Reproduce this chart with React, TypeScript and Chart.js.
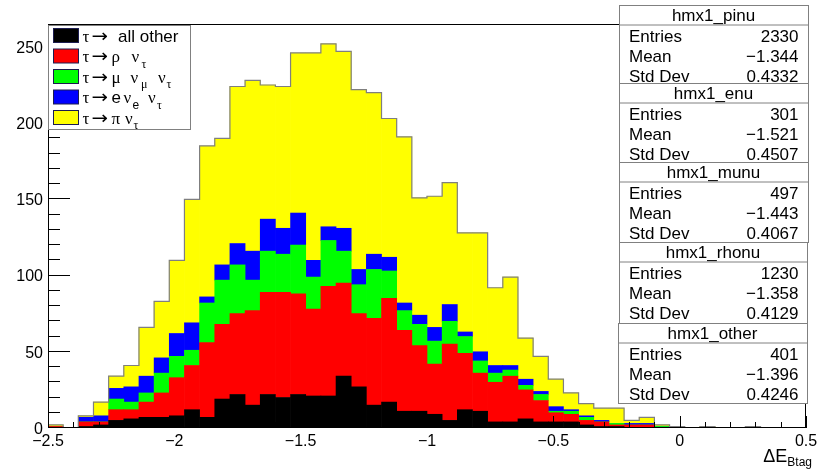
import React, { useEffect, useRef } from 'react';
import { Chart, registerables } from 'chart.js';

Chart.register(...registerables);

// ---- histogram definition (50 bins from -2.5 to 0.5) ----
const X_MIN = -2.5;
const X_MAX = 0.5;
const BIN_WIDTH = 0.06;
const Y_MAX = 265;

// ---- stacked series (counts per bin), bottom to top ----
const otherCounts = [0, 0, 1, 2, 5, 6, 7, 7, 8, 12, 7, 19, 22, 15, 22, 20, 22, 21, 21, 34, 27, 15, 17, 11, 11, 9, 5, 12, 11, 4, 4, 6, 4, 4, 4, 2, 1, 1, 0, 0, 0, 0, 0, 0, 0, 0, 0, 0, 0, 0];
const rhonuCounts = [1, 0, 3, 2, 7, 6, 10, 16, 25, 29, 49, 49, 53, 62, 67, 69, 66, 57, 72, 61, 48, 57, 68, 53, 43, 33, 50, 37, 25, 26, 30, 19, 14, 6, 5, 3, 3, 1, 2, 2, 0, 0, 0, 0, 0, 0, 0, 0, 0, 0];
const munuCounts = [0, 0, 0, 0, 7, 5, 6, 13, 14, 10, 26, 29, 32, 20, 27, 25, 32, 21, 30, 21, 19, 32, 18, 13, 14, 15, 15, 11, 8, 6, 4, 3, 4, 1, 2, 2, 0, 1, 0, 0, 1, 0, 0, 0, 0, 0, 0, 0, 0, 0];
const enuCounts = [0, 0, 3, 4, 7, 10, 11, 10, 15, 18, 4, 10, 14, 19, 21, 17, 21, 11, 9, 15, 10, 10, 9, 5, 6, 9, 11, 3, 6, 5, 3, 4, 2, 3, 1, 1, 1, 0, 1, 1, 0, 0, 0, 0, 0, 0, 0, 0, 0, 0];
const pinuCounts = [1, 0, 1, 9, 8, 14, 32, 37, 48, 81, 99, 83, 103, 112, 88, 93, 105, 136, 120, 116, 118, 106, 91, 109, 77, 86, 80, 65, 78, 51, 58, 27, 23, 18, 11, 8, 8, 10, 2, 4, 1, 1, 0, 1, 0, 0, 1, 0, 0, 0];

const seriesColors = ['#000000', '#ff0000', '#00ff00', '#0000ff', '#ffff00'];
const seriesNames = ['τ → all other', 'τ → ρ ν_τ', 'τ → μ ν_μ ν_τ', 'τ → e ν_e ν_τ', 'τ → π ν_τ'];

// ---- axis ticks ----
const xTickValues = [-2.5, -2, -1.5, -1, -0.5, 0, 0.5];
const xTickLabels = ['−2.5', '−2', '−1.5', '−1', '−0.5', '0', '0.5'];
const yTickValues = [0, 50, 100, 150, 200, 250];
const yTickLabels = ['0', '50', '100', '150', '200', '250'];

// ---- stats boxes ----
const statNames = ['hmx1_pinu', 'hmx1_enu', 'hmx1_munu', 'hmx1_rhonu', 'hmx1_other'];
const statEntries = ['2330', '301', '497', '1230', '401'];
const statMeans = ['−1.344', '−1.521', '−1.443', '−1.358', '−1.396'];
const statStdDevs = ['0.4332', '0.4507', '0.4067', '0.4129', '0.4246'];

const SANS = '"Liberation Sans", Arial, Helvetica, sans-serif';
const SERIF = '"Liberation Serif", "Times New Roman", serif';
const ARROW_FONT = '"DejaVu Sans", sans-serif';

const binCenters = otherCounts.map((_, i) => +(X_MIN + (i + 0.5) * BIN_WIDTH).toFixed(4));
const allSeries = [otherCounts, rhonuCounts, munuCounts, enuCounts, pinuCounts];
const totals = otherCounts.map((_, i) => allSeries.reduce((s, arr) => s + arr[i], 0));

type Seg = { t: string; x: number; serif?: boolean; sub?: boolean; arrow?: boolean };
const A: Seg = { t: '→', x: 91.5, arrow: true };
const T: Seg = { t: 'τ', x: 82.5, serif: true };
const legendRows: Seg[][] = [
  [T, A, { t: 'all other', x: 118 }],
  [T, A, { t: 'ρ', x: 111.5, serif: true }, { t: 'ν', x: 131.5, serif: true }, { t: 'τ', x: 141.5, serif: true, sub: true }],
  [T, A, { t: 'μ', x: 111.5, serif: true }, { t: 'ν', x: 130.5, serif: true }, { t: 'μ', x: 141, serif: true, sub: true }, { t: 'ν', x: 158, serif: true }, { t: 'τ', x: 166.5, serif: true, sub: true }],
  [T, A, { t: 'e', x: 111.5 }, { t: 'ν', x: 123.5, serif: true }, { t: 'e', x: 132.5, sub: true }, { t: 'ν', x: 148, serif: true }, { t: 'τ', x: 157, serif: true, sub: true }],
  [T, A, { t: 'π', x: 111.5, serif: true }, { t: 'ν', x: 125, serif: true }, { t: 'τ', x: 133.5, serif: true, sub: true }],
];

const overlayPlugin = {
  id: 'rootOverlay',
  afterDraw(chart: any) {
    const { ctx, chartArea: a, scales } = chart;
    const xs = scales.x;
    const ys = scales.y;
    ctx.save();

    // frame
    ctx.strokeStyle = '#000';
    ctx.lineWidth = 1;
    ctx.strokeRect(a.left + 0.5, a.top + 0.5, a.right - a.left - 1, a.bottom - a.top - 1);

    // ticks (inward)
    ctx.beginPath();
    for (let v = 0; v <= Y_MAX; v += 10) {
      const y = Math.round(ys.getPixelForValue(v)) - 0.5;
      const len = v % 50 === 0 ? 22 : 12;
      ctx.moveTo(a.left, y);
      ctx.lineTo(a.left + len, y);
    }
    for (let i = 0; i <= 30; i++) {
      const v = X_MIN + i * 0.1;
      const x = Math.round(xs.getPixelForValue(v)) + 0.5;
      const len = i % 5 === 0 ? 12 : 6;
      ctx.moveTo(x, a.bottom);
      ctx.lineTo(x, a.bottom - len);
    }
    ctx.stroke();

    // tick labels
    ctx.fillStyle = '#000';
    ctx.font = `16px ${SANS}`;
    ctx.textBaseline = 'alphabetic';
    ctx.textAlign = 'right';
    yTickValues.forEach((v, i) => {
      ctx.fillText(yTickLabels[i], a.left - 5, ys.getPixelForValue(v) + 5.8);
    });
    ctx.textAlign = 'center';
    xTickValues.forEach((v, i) => {
      ctx.fillText(xTickLabels[i], xs.getPixelForValue(v), a.bottom + 18);
    });

    // axis title ΔE_Btag
    ctx.textAlign = 'right';
    ctx.font = `12px ${SANS}`;
    const subW = ctx.measureText('Btag').width;
    ctx.fillText('Btag', 812, 466);
    ctx.font = `18px ${SANS}`;
    ctx.fillText('ΔE', 812 - subW, 461.5);

    // legend
    const lx0 = 48.5, ly0 = 25.5, lx1 = 190.5, ly1 = 129.5;
    ctx.fillStyle = '#fff';
    ctx.fillRect(lx0, ly0, lx1 - lx0, ly1 - ly0);
    ctx.strokeStyle = '#808080';
    ctx.strokeRect(lx0, ly0, lx1 - lx0, ly1 - ly0);
    const rowY = [35.5, 56, 76.5, 97, 117.5];
    legendRows.forEach((segs, r) => {
      const cy = rowY[r];
      ctx.fillStyle = seriesColors[r];
      ctx.fillRect(53.5, cy - 7, 25, 14);
      ctx.strokeStyle = '#1c1c50';
      ctx.strokeRect(53.5, cy - 7, 25, 14);
      ctx.fillStyle = '#000';
      ctx.textAlign = 'left';
      segs.forEach((s) => {
        if (s.arrow) {
          ctx.save();
          ctx.font = `18px ${ARROW_FONT}`;
          const w = ctx.measureText(s.t).width;
          ctx.translate(s.x, cy + 6);
          ctx.scale(16.5 / w, 1);
          ctx.fillText(s.t, 0, 0);
          ctx.restore();
          return;
        }
        const size = s.sub ? 12 : 17;
        ctx.font = `${size}px ${s.serif ? SERIF : SANS}`;
        ctx.fillText(s.t, s.x, cy + 6 + (s.sub ? 5.5 : 0));
      });
    });

    // stats boxes
    const tops = [5, 83, 161.5, 241.5, 323];
    const bottoms = [83, 161.5, 241.5, 323, 403];
    const lefts = [619, 619, 619, 619, 617.5];
    const rights = [808, 808, 808, 807, 806.5];
    statNames.forEach((name, i) => {
      const t = Math.round(tops[i]) + 0.5;
      const b = Math.round(bottoms[i]) + 0.5;
      const l = Math.round(lefts[i]) + 0.5;
      const rr = Math.round(rights[i]) + 0.5;
      const tb = t + 19.5;
      ctx.fillStyle = '#fff';
      ctx.fillRect(l, t, rr - l, b - t);
      ctx.strokeStyle = '#808080';
      ctx.lineWidth = 1;
      ctx.strokeRect(l, t, rr - l, b - t);
      ctx.beginPath();
      ctx.moveTo(l, tb);
      ctx.lineTo(rr, tb);
      ctx.stroke();
      ctx.fillStyle = '#000';
      ctx.font = `17px ${SANS}`;
      ctx.textAlign = 'center';
      ctx.fillText(name, (l + rr) / 2 - 0.5, t + 15.5);
      const rows = [['Entries', statEntries[i]], ['Mean', statMeans[i]], ['Std Dev', statStdDevs[i]]];
      const offs = [10.5, 30.8, 50.5];
      rows.forEach(([lab, val], k) => {
        const y = tb + offs[k] + 6;
        ctx.textAlign = 'left';
        ctx.fillText(lab, 629, y);
        ctx.textAlign = 'right';
        ctx.fillText(val, 798.5, y);
      });
    });

    ctx.restore();
  },
};

export default function App() {
  const ref = useRef<HTMLCanvasElement | null>(null);

  useEffect(() => {
    document.body.style.margin = '0';
    const canvas = ref.current;
    if (!canvas) return;

    const barSets = allSeries.map((arr, i) => ({
      type: 'bar' as const,
      label: seriesNames[i],
      data: arr.map((y, k) => ({ x: binCenters[k], y })),
      backgroundColor: seriesColors[i],
      borderWidth: 0,
      barPercentage: 1,
      categoryPercentage: 1,
      order: 1,
    }));

    const outline: { x: number; y: number }[] = [{ x: X_MIN, y: 0 }];
    totals.forEach((t, k) => outline.push({ x: +(X_MIN + k * BIN_WIDTH).toFixed(4), y: t }));
    outline.push({ x: X_MAX, y: 0 });

    const chart = new Chart(canvas, {
      type: 'bar',
      data: {
        datasets: [
          ...barSets,
          {
            type: 'line' as const,
            label: 'outline',
            data: outline,
            stack: 'outline',
            stepped: true,
            borderColor: '#7f7f7f',
            borderWidth: 1.2,
            pointRadius: 0,
            fill: false,
            order: 0,
          } as any,
        ],
      },
      options: {
        animation: false,
        responsive: false,
        devicePixelRatio: 1,
        events: [],
        layout: { padding: { left: 48, right: 21, top: 24, bottom: 44 } },
        plugins: { legend: { display: false }, tooltip: { enabled: false }, title: { display: false } },
        scales: {
          x: { type: 'linear', min: X_MIN, max: X_MAX, offset: false, stacked: true, display: false, ticks: { stepSize: 0.5 }, grid: { offset: false } },
          y: { type: 'linear', min: 0, max: Y_MAX, stacked: true, display: false, ticks: { stepSize: 50 } },
        },
      },
      plugins: [overlayPlugin],
    });

    return () => chart.destroy();
  }, []);

  return (
    <div style={{ position: 'absolute', left: 0, top: 0, width: 827, height: 472, background: '#fff' }}>
      <canvas ref={ref} width={827} height={472} style={{ width: 827, height: 472, display: 'block' }} />
    </div>
  );
}
